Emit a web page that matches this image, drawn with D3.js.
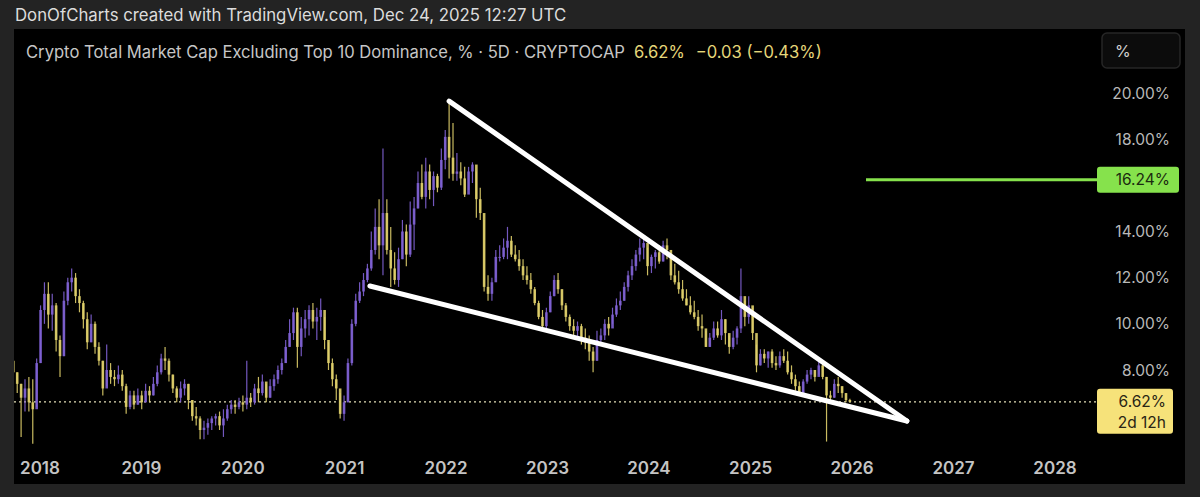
<!DOCTYPE html>
<html><head><meta charset="utf-8">
<script src="https://cdn.jsdelivr.net/npm/d3@7"></script>
<style>
html,body{margin:0;padding:0;background:#232323;}
svg{display:block;}
text{font-family:Inter,"Noto Sans",sans-serif;}
</style></head>
<body>
<svg id="c" width="1200" height="497"></svg>
<script>
// ---- data (5D-style candles, sampled every 14 days, ending Dec 24 2025) ----
const lastDate = "2025-12-24";
const stepDays = 14;
const closeVals = [7.9,7.4,6.8,7.2,6.6,6.3,8.3,10.6,11.3,10.4,10.8,9.3,8.6,11.0,11.8,12.0,11.2,10.9,10.2,9.2,
10.0,9.0,8.4,7.2,8.0,7.7,7.6,7.8,7.3,6.4,6.9,6.5,6.9,6.6,7.1,6.9,7.4,7.9,8.5,8.4,
7.8,7.2,6.8,7.2,7.4,6.7,6.0,5.9,5.4,5.5,5.7,5.9,6.0,5.6,5.9,6.3,6.5,6.4,6.6,6.5,
6.8,6.6,7.2,7.0,7.5,6.8,7.3,7.6,8.0,8.3,9.0,9.6,10.5,9.0,9.8,10.2,10.6,10.1,10.3,10.6,
9.3,8.3,7.6,7.2,6.1,6.6,8.3,10.0,11.0,11.4,11.9,12.4,13.2,14.2,13.4,14.8,13.2,12.4,11.9,12.8,
14.0,13.0,14.3,15.0,16.1,15.5,16.6,15.8,16.4,15.9,17.1,18.1,17.2,16.5,16.6,16.3,15.6,16.6,16.9,15.4,
14.8,11.6,11.3,11.8,12.9,12.9,13.3,13.6,13.0,12.8,12.5,12.1,11.9,11.5,10.9,10.3,9.9,10.5,11.2,11.9,
11.5,10.8,10.3,9.9,9.7,9.9,9.4,9.2,8.8,8.4,9.3,9.5,10.0,9.8,10.4,10.8,11.0,11.6,12.1,12.5,
13.0,13.3,13.5,12.5,12.9,13.1,12.7,13.4,13.2,12.1,11.8,11.5,11.1,10.8,10.5,10.3,9.9,9.8,9.0,9.4,
9.8,9.5,10.2,9.6,9.0,9.4,9.8,11.2,10.3,10.8,9.6,8.2,8.7,8.5,8.8,8.3,8.2,8.6,8.4,7.9,
7.6,7.3,7.0,7.5,7.8,8.0,7.7,8.2,7.7,6.9,6.8,7.4,7.3,7.0,6.7,6.62];
const highVals = [9.0,7.9,7.4,7.6,7.7,7.6,8.5,10.8,11.8,11.8,11.3,10.9,9.5,11.4,12.0,12.4,12.2,11.5,11.0,10.5,
10.4,10.1,9.2,8.4,9.1,8.3,8.0,8.2,8.0,7.4,7.1,7.1,7.2,7.1,7.4,7.3,7.7,8.2,8.7,9.0,
8.5,7.8,7.3,7.5,7.6,7.4,6.7,6.4,6.0,5.8,5.9,6.0,6.1,6.2,6.3,6.5,6.7,6.7,6.8,6.9,
8.4,7.0,7.4,7.7,7.8,7.4,7.6,7.8,8.2,8.5,9.3,10.2,10.7,10.7,10.3,10.6,10.8,10.9,10.7,11.1,
10.3,9.2,8.5,7.8,7.0,6.9,8.5,10.2,11.3,11.8,12.2,12.6,14.0,15.0,15.4,17.6,15.4,14.2,13.1,13.3,
14.5,14.3,15.3,15.5,16.6,16.9,17.2,16.9,16.6,16.5,17.6,18.4,19.6,18.7,17.4,17.0,16.8,16.8,17.0,16.6,
15.9,14.5,12.1,12.0,13.2,13.4,13.7,14.2,13.8,13.4,13.2,12.8,12.5,12.2,11.6,11.0,10.6,10.7,11.4,12.1,
12.2,11.5,10.9,10.4,10.2,10.1,10.0,9.8,9.5,9.0,9.7,9.8,10.2,10.3,10.7,11.1,11.4,11.8,12.3,12.8,
13.2,13.7,13.7,13.3,13.0,13.2,13.4,13.6,13.7,13.0,12.6,12.3,11.9,11.5,11.2,11.0,10.6,10.4,9.7,9.6,
10.1,10.1,10.6,10.2,9.5,9.7,9.9,12.4,11.0,11.2,10.7,9.1,8.9,8.9,8.8,8.9,8.6,8.8,8.9,8.8,
8.2,7.8,7.5,7.6,8.0,8.1,8.0,8.4,8.4,7.7,7.1,7.6,7.7,7.3,7.0,6.75];
const lowVals = [7.4,7.0,5.1,6.2,6.2,4.8,6.4,8.3,10.0,9.8,9.7,8.8,7.7,8.6,10.8,11.4,10.9,10.5,9.8,8.9,
9.2,8.7,8.2,6.9,7.3,7.4,7.3,7.4,7.1,6.1,6.3,6.3,6.5,6.3,6.6,6.6,6.9,7.3,7.8,8.0,
7.5,7.0,6.6,6.6,6.9,6.3,5.8,5.6,5.0,5.0,5.2,5.4,5.6,5.4,5.1,5.8,6.1,6.1,6.3,6.2,
6.3,6.4,6.5,6.6,6.9,6.6,6.8,7.1,7.4,7.8,8.3,9.0,9.3,8.1,8.6,9.4,9.5,9.8,9.3,9.7,
8.9,8.0,7.3,6.7,5.9,5.8,6.6,8.2,9.9,10.9,11.2,11.8,12.3,13.0,12.8,12.1,13.0,11.6,11.7,11.6,
12.8,12.5,12.9,13.2,15.0,15.4,15.0,15.4,15.1,15.7,15.8,16.7,16.3,16.2,16.2,16.0,15.5,15.8,16.1,14.6,
14.5,11.4,11.0,11.0,12.0,12.7,12.8,12.8,12.9,12.7,12.3,11.9,11.7,11.3,10.8,10.2,9.7,9.7,10.5,11.2,
11.3,10.6,10.1,9.7,9.5,9.3,9.1,8.9,8.4,7.9,8.4,9.2,9.3,9.5,10.0,10.3,10.6,11.0,11.4,11.9,
12.3,12.7,12.8,12.1,12.2,12.4,12.6,12.7,12.8,11.9,11.7,11.3,11.0,10.8,10.4,10.2,9.7,9.4,9.0,9.0,
9.3,9.4,9.3,9.1,8.7,8.9,9.1,9.6,9.9,10.0,9.3,7.9,8.2,8.3,8.1,8.1,8.0,8.1,8.3,7.8,
7.4,7.1,6.9,7.0,7.4,7.6,7.5,7.8,7.6,4.9,6.6,6.8,7.0,6.8,6.6,6.6];
const firstOpen = 8.4;

const yearTicks = ["2018","2019","2020","2021","2022","2023","2024","2025","2026","2027","2028"];
const priceTicks = [8,10,12,14,18,20];
const lastPrice = 6.62;
const targetLevel = 16.24;
const targetStart = "2026-02-20";
const upperLine = [["2022-01-12",19.65],["2026-07-17",5.79]];
const lowerLine = [["2021-04-02",11.64],["2026-07-17",5.79]];

const headerText = "DonOfCharts created with TradingView.com, Dec 24, 2025 12:27 UTC";
const legendText = "Crypto Total Market Cap Excluding Top 10 Dominance, % \u00b7 5D \u00b7 CRYPTOCAP";
const legendVal = "6.62%";
const legendChg = "\u22120.03 (\u22120.43%)";

// ---- build ----
const parse = d3.utcParse("%Y-%m-%d");
const end = parse(lastDate);
const n = closeVals.length;
const bars = closeVals.map((c,i)=>({
  date: d3.utcDay.offset(end, -(n-1-i)*stepDays),
  open: i===0 ? firstOpen : closeVals[i-1],
  close: c, high: highVals[i], low: lowVals[i]
}));

const svg = d3.select("#c");
const P = {l:14, r:1185, t:29, b:484, axisX:1097};

svg.append("rect").attr("x",0).attr("y",0).attr("width",1200).attr("height",497).attr("fill","#232323");
svg.append("rect").attr("x",P.l).attr("y",P.t).attr("width",P.r-P.l).attr("height",P.b-P.t).attr("fill","#000");

svg.append("text").attr("x",15).attr("y",21).attr("fill","#dcdcdc").attr("font-size",16.8).text(headerText);

const x = d3.scaleUtc().domain([parse("2018-01-01"), parse("2028-01-01")]).range([40, 1055]);
const y = d3.scaleLinear().domain([8, 20]).range([370, 93]);

svg.append("defs").append("clipPath").attr("id","pc").append("rect")
  .attr("x",P.l).attr("y",P.t).attr("width",P.axisX-P.l).attr("height",P.b-P.t);

const plot = svg.append("g").attr("clip-path","url(#pc)");

// last price dotted line
plot.append("line").attr("x1",P.l).attr("x2",P.axisX).attr("y1",y(lastPrice)).attr("y2",y(lastPrice))
  .attr("stroke","#e4dfb8").attr("stroke-width",1.2).attr("stroke-dasharray","2,3");

const UP = "#8062d4", DN = "#e0d06c";
const g = plot.append("g");
g.selectAll("line.w").data(bars).join("line").attr("class","w")
  .attr("x1",d=>x(d.date)).attr("x2",d=>x(d.date))
  .attr("y1",d=>y(d.high)).attr("y2",d=>y(d.low))
  .attr("stroke",d=>d.close>=d.open?UP:DN).attr("stroke-width",1.2).attr("opacity",0.9);
g.selectAll("rect.b").data(bars).join("rect").attr("class","b")
  .attr("x",d=>x(d.date)-1.3).attr("width",2.6)
  .attr("y",d=>y(Math.max(d.open,d.close)))
  .attr("height",d=>Math.max(1,Math.abs(y(d.open)-y(d.close))))
  .attr("fill",d=>d.close>=d.open?UP:DN).attr("opacity",0.9);

// trend lines
const lineGen = d3.line().x(d=>x(parse(d[0]))).y(d=>y(d[1]));
[upperLine, lowerLine].forEach(L=>{
  plot.append("path").attr("d",lineGen(L)).attr("fill","none").attr("stroke","#fff")
    .attr("stroke-width",5).attr("stroke-linecap","round");
});

// target line
svg.append("line").attr("x1",x(parse(targetStart))).attr("x2",P.axisX)
  .attr("y1",y(targetLevel)).attr("y2",y(targetLevel)).attr("stroke","#86e24c").attr("stroke-width",3);

// legend
const lg = svg.append("text").attr("x",26).attr("y",58).attr("font-size",16.6);
lg.append("tspan").attr("fill","#c6c6c6").text(legendText);
lg.append("tspan").attr("fill","#e6d77a").attr("dx",9).text(legendVal);
lg.append("tspan").attr("fill","#e6d77a").attr("dx",11).text(legendChg);

// % button
svg.append("rect").attr("x",1102).attr("y",33).attr("width",78).attr("height",35).attr("rx",5)
  .attr("fill","#0c0c0c").attr("stroke","#262626").attr("stroke-width",1.5);
svg.append("text").attr("x",1115).attr("y",57).attr("fill","#d0d0d0").attr("font-size",16).text("%");

// price axis
svg.append("g").selectAll("text").data(priceTicks).join("text")
  .attr("x",1170).attr("y",d=>y(d)+5.5).attr("text-anchor","end").attr("fill","#b9b9b9")
  .attr("font-size",15.5).text(d=>d.toFixed(2)+"%");

// target label
svg.append("rect").attr("x",1097).attr("y",y(targetLevel)-13).attr("width",82).attr("height",26).attr("rx",3).attr("fill","#86e24c");
svg.append("text").attr("x",1170).attr("y",y(targetLevel)+5.5).attr("text-anchor","end").attr("fill","#1b2a10")
  .attr("font-size",15.5).text(targetLevel.toFixed(2)+"%");

// last price label
svg.append("rect").attr("x",1097).attr("y",y(lastPrice)-13).attr("width",76).attr("height",45).attr("rx",3).attr("fill","#f6e27a");
svg.append("text").attr("x",1166).attr("y",y(lastPrice)+5.5).attr("text-anchor","end").attr("fill","#2a2514")
  .attr("font-size",15.5).text(lastPrice.toFixed(2)+"%");
svg.append("text").attr("x",1166).attr("y",y(lastPrice)+26).attr("text-anchor","end").attr("fill","#2a2514")
  .attr("font-size",15.5).text("2d 12h");

// time axis
svg.append("g").selectAll("text").data(yearTicks).join("text")
  .attr("x",d=>x(parse(d+"-01-01"))).attr("y",474).attr("text-anchor","middle")
  .attr("fill","#c4c4c4").attr("font-size",17).attr("font-weight",600).text(d=>d);
</script>
</body></html>
